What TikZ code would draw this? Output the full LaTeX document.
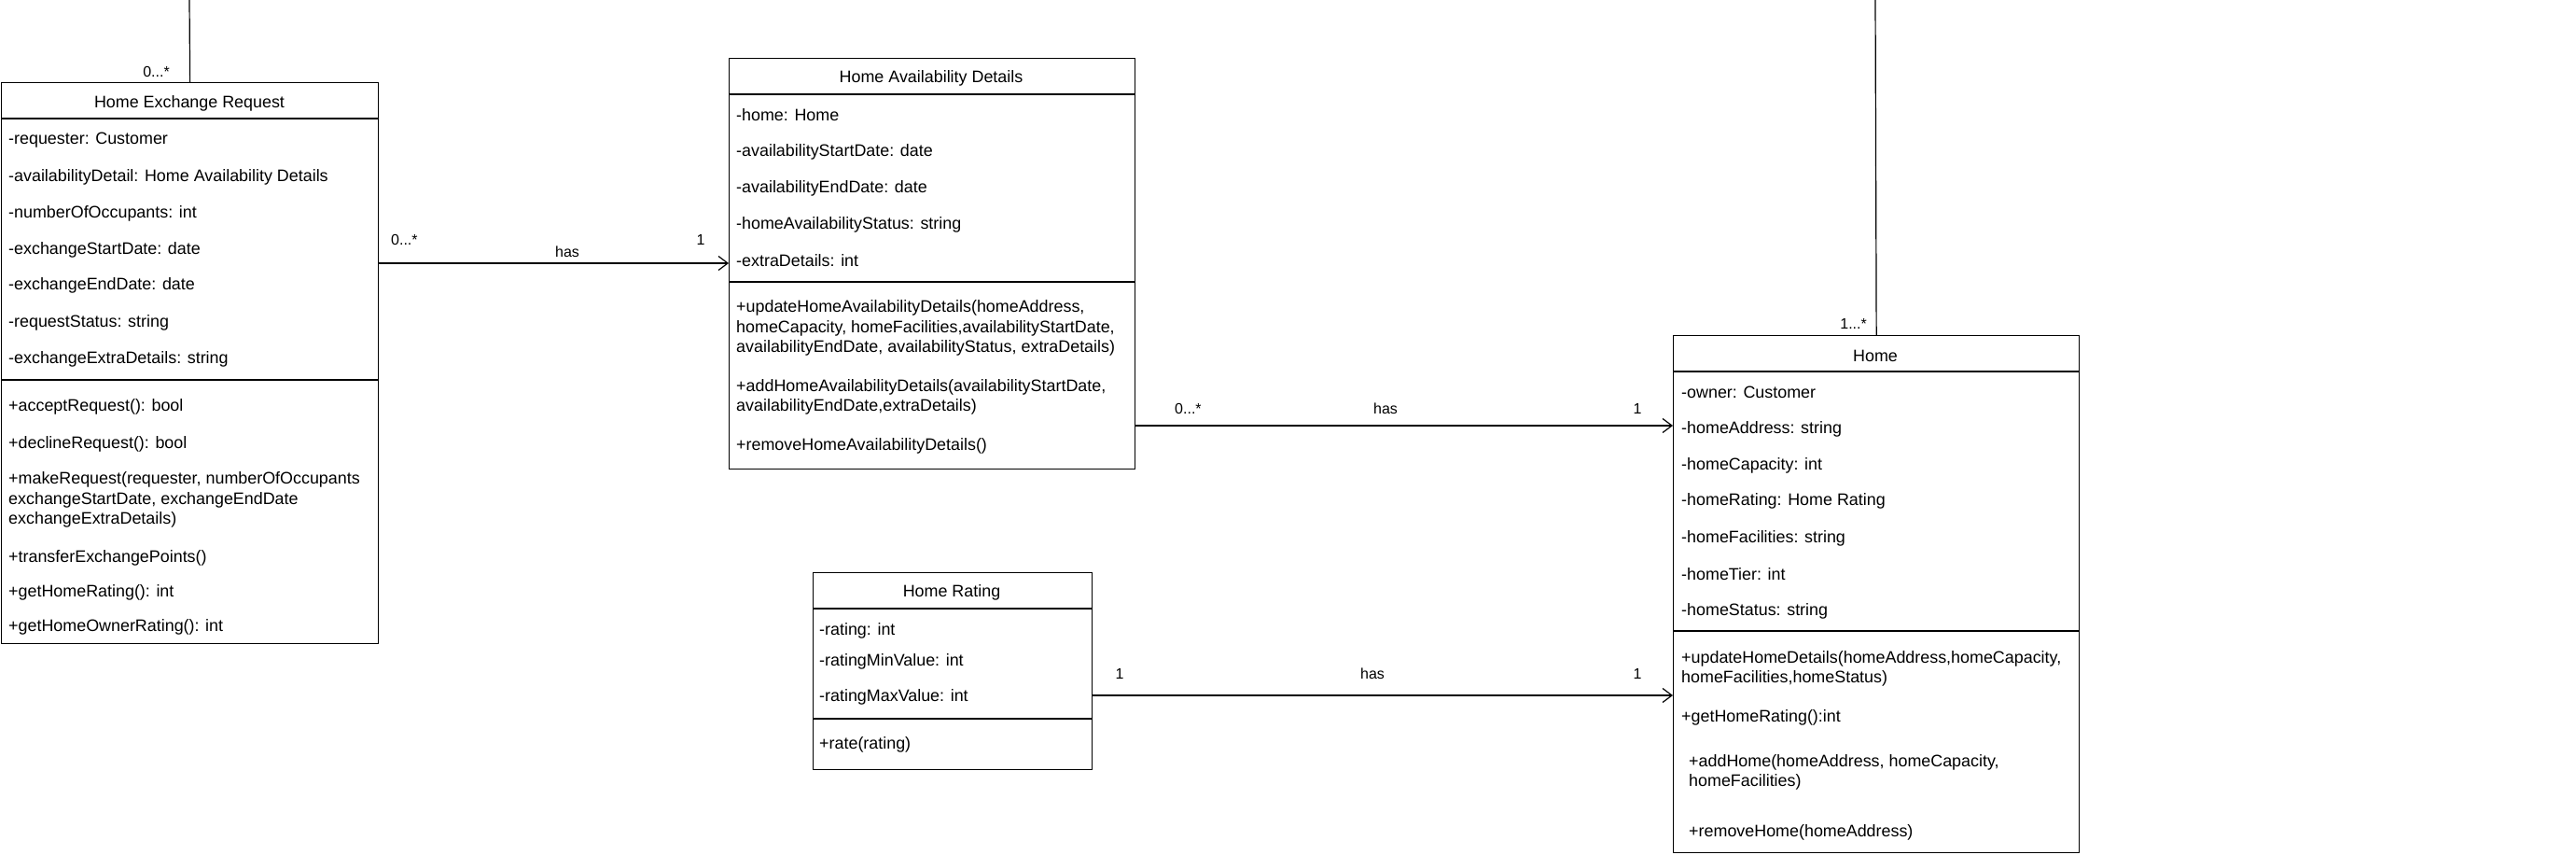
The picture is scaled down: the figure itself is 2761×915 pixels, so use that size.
\documentclass[tikz,border=0pt]{standalone}
\usepackage{fontspec}
\setmainfont{Liberation Sans}
\usetikzlibrary{arrows.meta}
\tikzset{
  classbox/.style={draw, line width=1.3pt, anchor=north west, inner sep=0pt, fill=white},
  divider/.style={line width=1.3pt},
  txt/.style={anchor=west, inner sep=0pt, align=left, yshift=-2.5pt, font=\fontsize{17.9}{21.4}\selectfont},
  ttl/.style={inner sep=0pt, yshift=-2.5pt, font=\fontsize{17.9}{21.4}\selectfont},
  lbl/.style={inner sep=0pt, yshift=-1.5pt, font=\fontsize{16}{19}\selectfont},
  assoc/.style={line width=1.2pt, -{Straight Barb[length=10pt,width=15pt,line width=1.2pt]}},
  plain/.style={line width=1.2pt}
}
\begin{document}
\begin{tikzpicture}[x=1pt,y=-1pt]
\useasboundingbox (0,0) rectangle (2761,915);

% ---------- Home Exchange Request ----------
\node[classbox, minimum width=404pt, minimum height=601pt] (her) at (1,88) {};
\draw[divider] (1,127) -- (405,127);
\draw[divider] (1,407) -- (405,407);
\node[ttl] (her-t) at (203,108) {Home Exchange Request};
\node[txt] (her-a1) at (9,148) {-requester: Customer};
\node[txt] (her-a2) at (9,187) {-availabilityDetail: Home Availability Details};
\node[txt] (her-a3) at (9,226) {-numberOfOccupants: int};
\node[txt] (her-a4) at (9,265) {-exchangeStartDate: date};
\node[txt] (her-a5) at (9,303) {-exchangeEndDate: date};
\node[txt] (her-a6) at (9,343) {-requestStatus: string};
\node[txt] (her-a7) at (9,382) {-exchangeExtraDetails: string};
\node[txt] (her-m1) at (9,433) {+acceptRequest(): bool};
\node[txt] (her-m2) at (9,473) {+declineRequest(): bool};
\node[txt] (her-m3) at (9,533) {+makeRequest(requester, numberOfOccupants\\exchangeStartDate, exchangeEndDate\\exchangeExtraDetails)};
\node[txt] (her-m4) at (9,595) {+transferExchangePoints()};
\node[txt] (her-m5) at (9,632) {+getHomeRating(): int};
\node[txt] (her-m6) at (9,669) {+getHomeOwnerRating(): int};

% ---------- Home Availability Details ----------
\node[classbox, minimum width=435pt, minimum height=440pt] (had) at (781,62) {};
\draw[divider] (781,101) -- (1216,101);
\draw[divider] (781,302) -- (1216,302);
\node[ttl] (had-t) at (998,81) {Home Availability Details};
\node[txt] (had-a1) at (789,121) {-home: Home};
\node[txt] (had-a2) at (789,160) {-availabilityStartDate: date};
\node[txt] (had-a3) at (789,199) {-availabilityEndDate: date};
\node[txt] (had-a4) at (789,238) {-homeAvailabilityStatus: string};
\node[txt] (had-a5) at (789,277) {-extraDetails: int};
\node[txt] (had-m1) at (789,349) {+updateHomeAvailabilityDetails(homeAddress,\\homeCapacity, homeFacilities,availabilityStartDate,\\availabilityEndDate, availabilityStatus, extraDetails)};
\node[txt] (had-m2) at (789,423) {+addHomeAvailabilityDetails(availabilityStartDate,\\availabilityEndDate,extraDetails)};
\node[txt] (had-m3) at (789,475) {+removeHomeAvailabilityDetails()};

% ---------- Home Rating ----------
\node[classbox, minimum width=299pt, minimum height=211pt] (hr) at (871,613) {};
\draw[divider] (871,652) -- (1170,652);
\draw[divider] (871,770) -- (1170,770);
\node[ttl] (hr-t) at (1020,632) {Home Rating};
\node[txt] (hr-a1) at (878,673) {-rating: int};
\node[txt] (hr-a2) at (878,706) {-ratingMinValue: int};
\node[txt] (hr-a3) at (878,744) {-ratingMaxValue: int};
\node[txt] (hr-m1) at (878,795) {+rate(rating)};

% ---------- Home ----------
\node[classbox, minimum width=435pt, minimum height=554pt] (home) at (1793,359) {};
\draw[divider] (1793,398) -- (2228,398);
\draw[divider] (1793,676) -- (2228,676);
\node[ttl] (home-t) at (2010,379) {Home};
\node[txt] (home-a1) at (1802,418) {-owner: Customer};
\node[txt] (home-a2) at (1802,457) {-homeAddress: string};
\node[txt] (home-a3) at (1802,496) {-homeCapacity: int};
\node[txt] (home-a4) at (1802,534) {-homeRating: Home Rating};
\node[txt] (home-a5) at (1802,574) {-homeFacilities: string};
\node[txt] (home-a6) at (1802,613) {-homeTier: int};
\node[txt] (home-a7) at (1802,652) {-homeStatus: string};
\node[txt] (home-m1) at (1802,714) {+updateHomeDetails(homeAddress,homeCapacity,\\homeFacilities,homeStatus)};
\node[txt] (home-m2) at (1802,766) {+getHomeRating():int};
\node[txt] (home-m3) at (1810,825) {+addHome(homeAddress, homeCapacity,\\homeFacilities)};
\node[txt] (home-m4) at (1810,889) {+removeHome(homeAddress)};

% ---------- connectors ----------
\coordinate (y1) at (0,282);
\coordinate (y2) at (0,456);
\coordinate (y3) at (0,745);
\coordinate (topL) at (203,0);
\coordinate (topR) at (2010,0);

\draw[plain] (topL) -- (her.north);
\draw[plain] (topR) -- (home.north);
\draw[assoc] (her.east |- y1) -- (had.west |- y1);
\draw[assoc] (had.east |- y2) -- (home.west |- y2);
\draw[assoc] (hr.east |- y3) -- (home.west |- y3);

% ---------- labels ----------
\node[lbl, anchor=east] (l0) at (182,75) {0...*};
\node[lbl, anchor=east] (l1) at (2001,345) {1...*};

\node[lbl, anchor=west] (l2) at (419,255) {0...*};
\node[lbl] (l3) at (608,268) {has};
\node[lbl] (l4) at (751,255) {1};

\node[lbl, anchor=west] (l5) at (1259,436) {0...*};
\node[lbl] (l6) at (1485,436) {has};
\node[lbl] (l7) at (1755,436) {1};

\node[lbl] (l8) at (1200,720) {1};
\node[lbl] (l9) at (1471,720) {has};
\node[lbl] (l10) at (1755,720) {1};
\end{tikzpicture}
\end{document}
